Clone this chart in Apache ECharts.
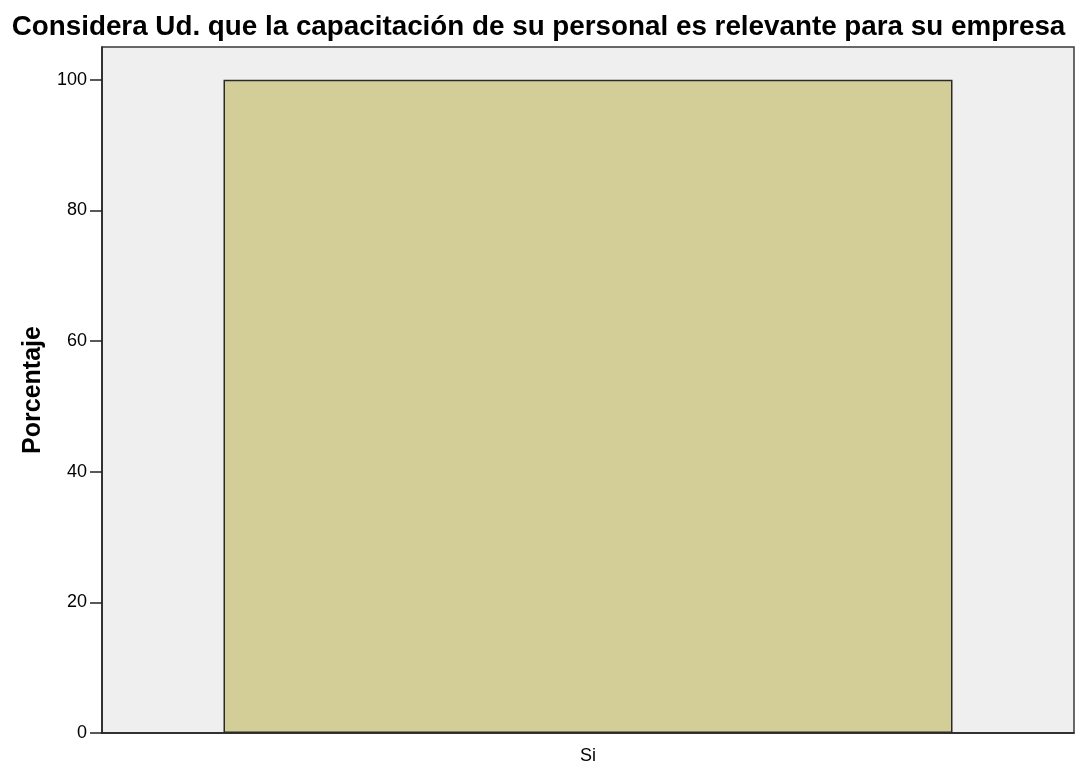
<!DOCTYPE html>
<html>
<head>
<meta charset="utf-8">
<script src="https://cdn.jsdelivr.net/npm/echarts@6/dist/echarts.min.js"></script>
<style>
  html, body { margin: 0; padding: 0; background: #fff; }
  #main { width: 1077px; height: 766px; }
</style>
</head>
<body>
<div id="main"></div>
<script>
// datos
var categorias = ['Si'];
var porcentajes = [100];

var chart = echarts.init(document.getElementById('main'));
chart.setOption({
  animation: false,
  title: {
    text: 'Considera Ud. que la capacitación de su personal es relevante para su empresa',
    left: 'center',
    top: 8,
    textStyle: { fontFamily: 'Liberation Sans, Arial', fontWeight: 'bold', fontSize: 27.8, color: '#000' }
  },
  grid: {
    left: 102, right: 3, top: 47, bottom: 33,
    show: true,
    backgroundColor: '#efefef',
    borderColor: '#3a3a3a',
    borderWidth: 1.5
  },
  xAxis: {
    type: 'category',
    data: categorias,
    axisLine: { lineStyle: { color: '#222', width: 1.5 } },
    axisTick: { alignWithLabel: true, length: 11, lineStyle: { color: '#222', width: 1.5 } },
    axisLabel: { color: '#000', fontFamily: 'Liberation Sans, Arial', fontSize: 18, margin: 14 }
  },
  yAxis: {
    type: 'value',
    min: 0,
    max: 105,
    interval: 20,
    name: 'Porcentaje',
    nameLocation: 'middle',
    nameGap: 56,
    nameTextStyle: { fontFamily: 'Liberation Sans, Arial', fontWeight: 'bold', fontSize: 25, color: '#000' },
    splitLine: { show: false },
    axisLine: { show: true, lineStyle: { color: '#222', width: 1.5 } },
    axisTick: { show: true, length: 12, lineStyle: { color: '#222', width: 1.5 } },
    axisLabel: { color: '#000', fontFamily: 'Liberation Sans, Arial', fontSize: 18, margin: 15, showMaxLabel: false }
  },
  series: [{
    type: 'bar',
    data: porcentajes,
    barWidth: '75%',
    itemStyle: { color: '#d3ce98', borderColor: '#2a2a2a', borderWidth: 1.5 }
  }]
});
</script>
</body>
</html>
